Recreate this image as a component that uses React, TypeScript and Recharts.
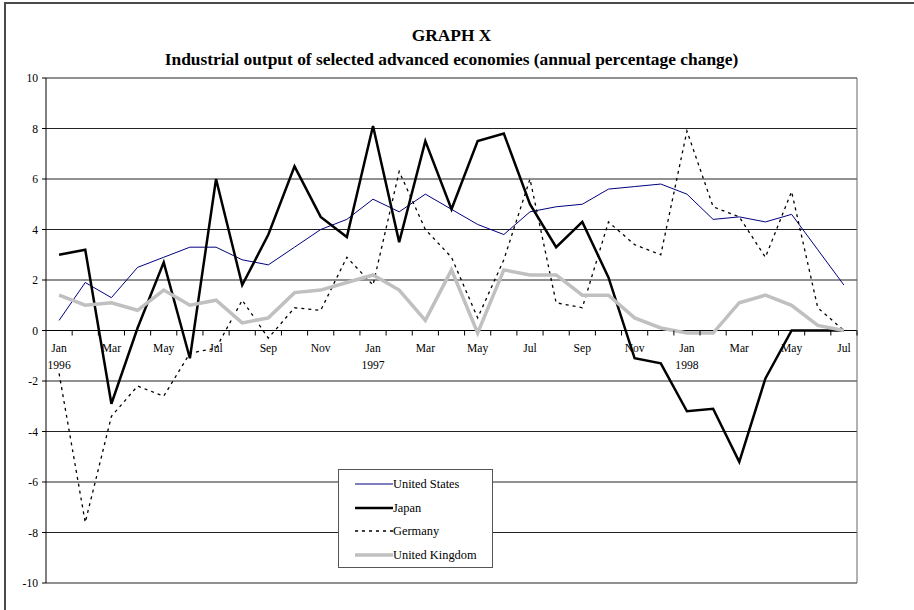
import { LineChart, Line, XAxis, YAxis, CartesianGrid, ReferenceLine } from "recharts";

// Jan 1996 .. Jul 1998
const months = [
  "Jan", "Feb", "Mar", "Apr", "May", "Jun", "Jul", "Aug", "Sep", "Oct", "Nov", "Dec",
  "Jan", "Feb", "Mar", "Apr", "May", "Jun", "Jul", "Aug", "Sep", "Oct", "Nov", "Dec",
  "Jan", "Feb", "Mar", "Apr", "May", "Jun", "Jul",
];
const yearLabels: Record<number, string> = { 0: "1996", 12: "1997", 24: "1998" };
const yTicks = [-10, -8, -6, -4, -2, 0, 2, 4, 6, 8, 10];

const unitedStates = [
  0.4, 1.9, 1.3, 2.5, 2.9, 3.3, 3.3, 2.8, 2.6, 3.3, 4.0, 4.4,
  5.2, 4.7, 5.4, 4.8, 4.2, 3.8, 4.7, 4.9, 5.0, 5.6, 5.7, 5.8,
  5.4, 4.4, 4.5, 4.3, 4.6, 3.2, 1.8,
];
const japan = [
  3.0, 3.2, -2.9, 0.1, 2.7, -1.1, 6.0, 1.8, 3.8, 6.5, 4.5, 3.7,
  8.1, 3.5, 7.5, 4.8, 7.5, 7.8, 5.0, 3.3, 4.3, 2.1, -1.1, -1.3,
  -3.2, -3.1, -5.2, -1.9, 0.0, 0.0, 0.0,
];
const germany = [
  -1.7, -7.6, -3.4, -2.2, -2.6, -0.9, -0.7, 1.2, -0.3, 0.9, 0.8, 2.9,
  1.8, 6.3, 4.0, 2.9, 0.5, 2.8, 6.0, 1.1, 0.9, 4.3, 3.4, 3.0,
  7.9, 4.9, 4.5, 2.9, 5.5, 0.9, 0.0,
];
const unitedKingdom = [
  1.4, 1.0, 1.1, 0.8, 1.6, 1.0, 1.2, 0.3, 0.5, 1.5, 1.6, 1.9,
  2.2, 1.6, 0.4, 2.4, -0.1, 2.4, 2.2, 2.2, 1.4, 1.4, 0.5, 0.1,
  -0.1, -0.1, 1.1, 1.4, 1.0, 0.2, 0.0,
];

const series = [
  { key: "us", name: "United States", color: "#000080", width: 1, dash: undefined as string | undefined },
  { key: "jp", name: "Japan", color: "#000000", width: 2.5, dash: undefined },
  { key: "de", name: "Germany", color: "#000000", width: 1.3, dash: "3 4" },
  { key: "uk", name: "United Kingdom", color: "#c0c0c0", width: 3.5, dash: undefined },
];

const data = months.map((month, i) => ({
  i,
  month,
  us: unitedStates[i],
  jp: japan[i],
  de: germany[i],
  uk: unitedKingdom[i],
}));

// layout
const W = 914;
const H = 610;
const X_AXIS_H = 1;
const MARGIN = { top: 78, right: 57, bottom: 27 - X_AXIS_H, left: 0 };
const Y_AXIS_W = 46;
const PLOT_W = W - MARGIN.left - MARGIN.right - Y_AXIS_W;
const PLOT_H = H - MARGIN.top - MARGIN.bottom - X_AXIS_H;
const STEP = PLOT_W / months.length;
const ZERO_Y = MARGIN.top + PLOT_H / 2; // domain is symmetric, so 0 is mid-plot
const FONT = "'Liberation Serif', 'Times New Roman', serif";

// month ticks sit on the zero line, Excel style: marks between months, label every other month
function MonthTick(props: any) {
  const { x, payload } = props;
  const idx = payload.value as number;
  const year = yearLabels[idx];
  return (
    <g>
      <line x1={x + STEP / 2} x2={x + STEP / 2} y1={ZERO_Y} y2={ZERO_Y + 5} stroke="#000" />
      {idx % 2 === 0 && (
        <text x={x} y={ZERO_Y + 21} textAnchor="middle" fontSize={11.6} fill="#000" fontFamily={FONT}>
          {months[idx]}
        </text>
      )}
      {year && (
        <text x={x} y={ZERO_Y + 38} textAnchor="middle" fontSize={11.6} fill="#000" fontFamily={FONT}>
          {year}
        </text>
      )}
    </g>
  );
}

export default function App() {
  return (
    <div
      style={{
        position: "absolute",
        left: 0,
        top: 0,
        width: W,
        height: H,
        overflow: "hidden",
        background: "#fff",
        fontFamily: FONT,
      }}
    >
      {/* outer frame, runs off the right and bottom */}
      <div
        style={{
          position: "absolute",
          left: 4,
          top: 2,
          width: W + 20,
          height: H + 20,
          border: "2px solid #4a4a4a",
        }}
      />

      <div style={{ position: "absolute", left: 0, top: 0 }}>
        <LineChart width={W} height={H} data={data} margin={MARGIN}>
          <CartesianGrid vertical={false} stroke="#222" />
          <XAxis
            dataKey="i"
            type="number"
            domain={[-0.5, months.length - 0.5]}
            ticks={data.map((d) => d.i)}
            interval={0}
            height={X_AXIS_H}
            axisLine={false}
            tickLine={false}
            tick={<MonthTick />}
          />
          <YAxis
            width={Y_AXIS_W}
            domain={[-10, 10]}
            ticks={yTicks}
            interval={0}
            stroke="#000"
            tickSize={4}
            tickMargin={4}
            tick={{ fontSize: 11.6, fill: "#000", fontFamily: FONT }}
          />
          <ReferenceLine y={0} stroke="#000" />
          <ReferenceLine x={months.length - 0.5} stroke="#666" />

          {series.map((s) => (
            <Line
              key={s.key}
              dataKey={s.key}
              name={s.name}
              type="linear"
              stroke={s.color}
              strokeWidth={s.width}
              strokeDasharray={s.dash}
              dot={false}
              activeDot={false}
              isAnimationActive={false}
            />
          ))}
        </LineChart>
      </div>

      {/* titles */}
      <div
        style={{
          position: "absolute",
          left: Y_AXIS_W,
          width: PLOT_W,
          top: 25,
          textAlign: "center",
          fontWeight: "bold",
          fontSize: 17.4,
          lineHeight: "20px",
          color: "#000",
        }}
      >
        GRAPH X
      </div>
      <div
        style={{
          position: "absolute",
          left: Y_AXIS_W - 40,
          width: PLOT_W + 80,
          top: 49,
          textAlign: "center",
          fontWeight: "bold",
          fontSize: 17.4,
          lineHeight: "20px",
          color: "#000",
          whiteSpace: "nowrap",
        }}
      >
        Industrial output of selected advanced economies (annual percentage change)
      </div>

      {/* legend */}
      <div
        style={{
          position: "absolute",
          left: 338,
          top: 469,
          width: 155,
          height: 99,
          boxSizing: "border-box",
          border: "1px solid #555",
          background: "#fff",
          paddingTop: 2,
        }}
      >
        {series.map((s) => (
          <div key={s.key} style={{ display: "flex", alignItems: "center", height: 23.7 }}>
            <svg width={54} height={10} style={{ flex: "none" }}>
              <line
                x1={16}
                x2={54}
                y1={5}
                y2={5}
                stroke={s.color}
                strokeWidth={s.width}
                strokeDasharray={s.dash}
              />
            </svg>
            <span style={{ fontSize: 12.4, color: "#000", lineHeight: "14px" }}>{s.name}</span>
          </div>
        ))}
      </div>
    </div>
  );
}
